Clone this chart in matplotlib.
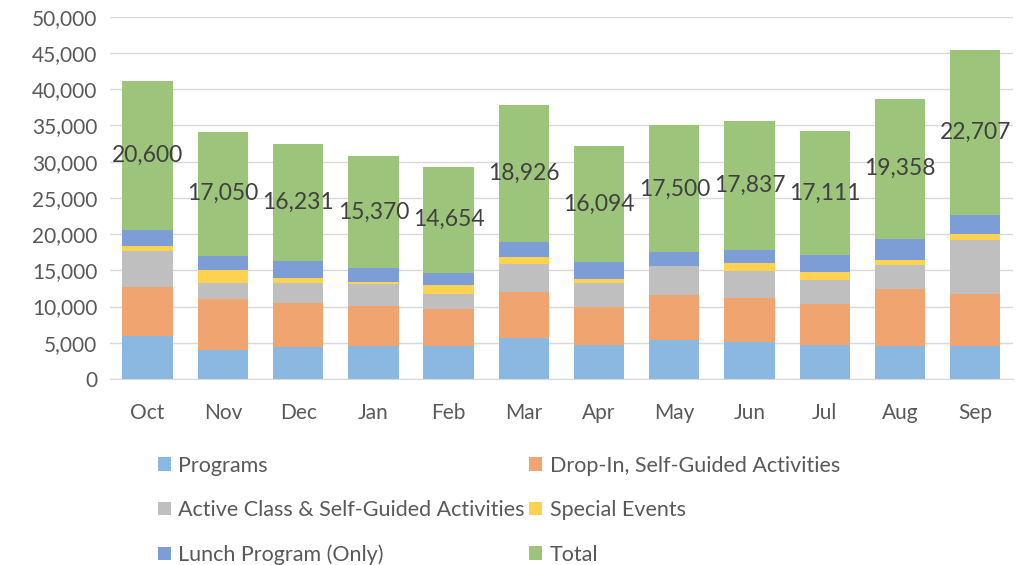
import matplotlib.pyplot as plt
from matplotlib.ticker import FuncFormatter
import numpy as np

months = ["Oct", "Nov", "Dec", "Jan", "Feb", "Mar", "Apr", "May", "Jun", "Jul", "Aug", "Sep"]
programs = [5940, 4050, 4375, 4605, 4510, 5620, 4650, 5340, 5110, 4745, 4515, 4515]
drop_in = [6720, 7000, 6170, 5525, 5110, 6400, 5300, 6265, 6125, 5615, 7965, 7185]
active = [5070, 2210, 2720, 2950, 2165, 3915, 3360, 4005, 3640, 3315, 3270, 7550]
special = [600, 1800, 645, 320, 1200, 920, 550, 0, 1195, 1105, 735, 785]
lunch = [2270, 1990, 2321, 1970, 1669, 2071, 2234, 1890, 1767, 2331, 2873, 2672]
total = [20600, 17050, 16231, 15370, 14654, 18926, 16094, 17500, 17837, 17111, 19358, 22707]

series = [
    ("Programs", programs, "#8AB8E1"),
    ("Drop-In, Self-Guided Activities", drop_in, "#F0A470"),
    ("Active Class & Self-Guided Activities", active, "#BFBFBF"),
    ("Special Events", special, "#FFD34F"),
    ("Lunch Program (Only)", lunch, "#7C9DD5"),
    ("Total", total, "#9CC47B"),
]

plt.rcParams['font.family'] = ['Lato', 'DejaVu Sans']

fig = plt.figure(figsize=(10.33, 5.65), dpi=100)
ax = fig.add_axes([0.1065, 0.3292, 0.874, 0.641])

x = np.arange(len(months))
bottom = np.zeros(len(months))
handles = []
for name, vals, col in series:
    b = ax.bar(x, vals, 0.67, bottom=bottom, color=col, label=name, zorder=2)
    handles.append(b)
    bottom = bottom + np.array(vals)

# total label sits in the middle of the green segment
tot_bottom = bottom - np.array(total)
for i, v in enumerate(total):
    ax.text(x[i], tot_bottom[i] + v / 2, "{:,}".format(v), ha="center", va="center",
            fontsize=16.5, color="#404040", zorder=3)

ax.set_xlim(-0.5, len(months) - 0.5)
ax.set_ylim(0, 50000)
ax.set_yticks(range(0, 50001, 5000))
ax.yaxis.set_major_formatter(FuncFormatter(lambda v, p: "{:,}".format(int(v))))
ax.set_xticks(x)
ax.set_xticklabels(months)
ax.grid(axis="y", color="#D9D9D9", linewidth=1, zorder=0)
for s in ["top", "right", "left"]:
    ax.spines[s].set_visible(False)
ax.spines["bottom"].set_color("#D9D9D9")
ax.tick_params(axis="both", length=0, labelsize=15, colors="#595959")
ax.tick_params(axis="y", pad=9)
ax.tick_params(axis="x", pad=17)

# legend is filled row by row in the reference
order = [0, 2, 4, 1, 3, 5]
fig.legend(handles=[handles[i] for i in order], loc="upper left", bbox_to_anchor=(0.134, 0.228),
           ncol=2, frameon=False, fontsize=15.5, labelcolor="#595959", handlelength=0.6,
           handleheight=0.6, handletextpad=0.35, columnspacing=0.2, labelspacing=1.14)

plt.savefig("out.png")
